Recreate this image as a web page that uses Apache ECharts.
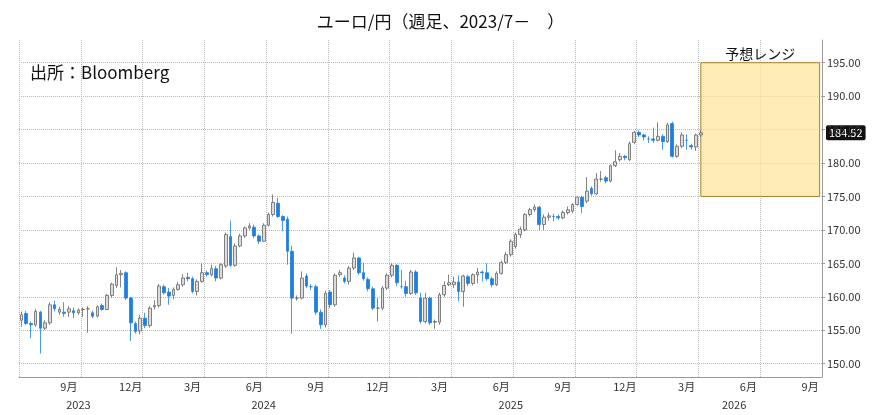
<!DOCTYPE html>
<html><head><meta charset="utf-8">
<script src="https://cdn.jsdelivr.net/npm/echarts@6/dist/echarts.min.js"></script>
<style>html,body{margin:0;padding:0;background:#fff}#c{width:881px;height:415px}</style>
</head><body><div id="c"></div>
<script>
const startDate = '2023-07-07';
const weekCount = 169;
const openV = [156.5,157.5,156.0,155.8,157.7,155.3,156.1,158.8,157.7,157.7,157.7,157.9,157.6,158.1,158.2,157.6,157.1,158.7,158.1,160.2,161.7,163.3,163.6,159.8,156.0,154.9,156.8,155.7,158.5,158.7,161.5,160.7,160.2,161.1,161.8,162.9,162.7,160.8,162.3,163.6,163.3,164.2,162.8,164.6,169.0,164.7,167.6,169.1,170.3,170.4,169.1,168.3,170.7,172.3,174.0,172.0,171.6,166.8,159.8,159.8,163.1,161.5,161.5,157.7,155.8,160.7,158.8,163.3,162.8,162.3,164.3,165.8,163.6,162.6,161.2,158.3,158.3,161.3,163.2,164.7,161.5,161.5,160.5,163.7,159.8,156.3,159.8,156.2,156.2,160.3,161.8,161.8,162.2,160.8,163.0,162.0,163.3,163.7,163.6,162.7,161.8,163.5,165.1,166.3,167.5,169.3,170.0,172.3,173.0,173.4,170.8,171.9,172.0,172.0,171.8,172.6,172.8,173.8,174.9,174.3,176.2,175.4,177.6,177.8,177.3,179.6,180.5,181.0,180.5,183.1,184.6,184.2,183.6,183.6,183.4,184.0,183.2,185.9,181.0,182.5,183.4,182.6,182.4,184.2];
const closeV = [157.3,156.0,155.8,157.8,155.3,156.1,158.8,158.2,158.1,157.5,158.2,157.6,158.0,158.1,158.2,157.1,158.5,158.1,160.2,161.9,163.3,163.5,159.8,156.1,154.8,156.8,155.7,158.3,158.7,161.6,160.6,160.1,161.1,161.8,162.8,162.7,160.8,162.3,163.6,163.3,164.2,162.8,164.8,169.3,164.7,167.6,169.1,170.3,170.6,169.1,168.3,170.7,172.3,174.1,172.0,171.4,166.8,159.8,159.8,162.8,161.6,161.5,157.7,155.8,160.5,158.8,163.2,163.6,162.3,164.3,165.8,163.6,162.7,161.2,158.3,158.3,161.3,163.2,164.7,162.1,161.5,160.5,163.7,160.6,156.3,159.8,156.1,156.3,160.3,161.7,162.1,162.2,160.8,163.1,162.0,163.3,163.7,163.6,162.7,161.8,163.5,165.1,166.3,168.3,169.3,170.1,172.3,173.0,173.4,170.8,171.9,172.1,172.0,171.8,172.6,173.0,173.8,174.9,173.5,175.8,175.4,177.6,177.6,177.3,179.6,180.2,181.0,180.8,182.9,184.6,184.2,183.9,183.6,183.4,184.0,183.2,185.7,181.0,182.5,184.2,183.4,182.4,184.2,184.52];
const lowV = [155.5,155.8,153.8,155.5,151.5,155.0,155.8,157.8,157.3,157.0,157.0,156.8,157.3,157.0,154.6,156.8,156.9,157.9,158.0,159.9,161.3,161.4,159.5,153.4,154.5,154.4,155.3,155.4,158.1,158.4,160.3,158.8,159.6,160.9,161.5,162.3,160.5,160.2,162.1,163.0,163.0,162.3,162.6,164.3,164.4,164.5,167.4,168.8,170.0,168.8,167.9,168.2,170.5,172.0,171.8,169.8,164.8,154.5,159.4,159.6,161.3,161.0,157.3,155.2,155.4,158.3,158.5,163.0,162.0,161.8,164.0,163.3,162.4,160.8,158.0,156.3,158.0,161.0,162.9,161.6,161.2,160.0,160.3,160.3,156.0,156.0,155.8,155.2,155.8,160.0,161.6,161.3,159.3,158.5,161.6,161.7,162.0,162.3,162.4,161.4,161.6,163.3,164.9,166.0,167.2,168.8,169.8,172.0,172.7,170.0,170.0,171.4,171.3,171.5,171.6,172.3,172.5,173.6,172.5,174.0,175.1,175.2,177.2,177.0,177.1,179.4,180.2,180.4,180.3,182.8,183.9,183.4,183.0,183.0,183.2,182.0,183.0,180.8,180.8,182.2,182.0,182.0,181.8,183.9];
const highV = [157.8,157.9,156.3,158.2,157.9,156.5,159.2,159.4,158.5,159.2,158.6,158.4,158.3,158.4,158.6,157.9,158.7,159.0,160.4,162.1,164.4,164.0,163.8,160.0,156.3,157.3,157.6,158.6,159.5,161.9,161.8,161.3,161.4,162.2,163.4,163.6,163.0,162.6,165.0,163.9,164.8,164.6,165.0,169.6,171.4,168.0,169.4,170.5,171.0,170.8,169.3,171.0,172.6,175.3,174.8,172.2,172.0,167.6,160.2,163.8,163.5,161.9,161.8,158.1,160.9,161.0,163.5,164.0,163.2,164.6,166.6,166.0,165.1,162.9,161.5,159.8,161.6,163.5,165.0,164.9,164.0,162.4,164.0,164.0,160.6,160.6,160.0,156.6,160.6,162.3,163.3,163.0,163.2,163.3,163.3,163.5,164.3,163.9,165.0,163.0,163.8,165.4,166.7,168.6,169.6,170.5,172.5,173.3,173.8,173.6,172.3,172.6,172.4,172.3,172.9,173.5,174.0,175.0,175.1,177.9,176.5,178.5,178.8,178.1,179.8,181.9,181.5,181.2,183.2,184.8,184.9,184.4,184.0,185.3,186.1,184.3,186.0,186.2,182.8,184.6,184.3,182.9,184.4,184.9];
const yTickValues = [150,155,160,165,170,175,180,185,190,195];
const monthLabelMonths = {3:'3月',6:'6月',9:'9月',12:'12月'};
const yearLabelDates = {'2023-09-29':'2023','2024-06-28':'2024','2025-06-27':'2025','2026-05-22':'2026'};
const lastPrice = 184.52;
const rangeHigh = 195, rangeLow = 175;

function fmt(d){const m=d.getUTCMonth()+1,dd=d.getUTCDate();return d.getUTCFullYear()+'-'+(m<10?'0':'')+m+'-'+(dd<10?'0':'')+dd;}
const cats=[];
{const s=new Date(startDate+'T00:00:00Z');for(let i=0;i<weekCount;i++){cats.push(fmt(new Date(s.getTime()+i*7*864e5)));}}
const candles=openV.map((o,i)=>[o,closeV[i],lowV[i],highV[i]]);
function isMonthLabel(i){const d=new Date(cats[i]+'T00:00:00Z');const m=d.getUTCMonth()+1,dd=d.getUTCDate();return monthLabelMonths[m]&&dd>=11&&dd<=17;}
function isQuarterStart(i){const d=new Date(cats[i]+'T00:00:00Z');const m=d.getUTCMonth()+1,dd=d.getUTCDate();return (m===1||m===4||m===7||m===10)&&dd<=7;}

const chart=echarts.init(document.getElementById('c'));
const ff='"Noto Sans CJK JP","Noto Sans",sans-serif';
chart.setOption({
  animation:false,
  textStyle:{fontFamily:ff},
  title:{text:'ユーロ/円（週足、2023/7－　）',left:'center',top:8,textStyle:{fontSize:17,fontWeight:'normal',color:'#111',fontFamily:ff}},
  graphic:[{type:'text',left:30,top:64,style:{text:'出所：Bloomberg',font:'17px '+ff,fill:'#111'}}],
  grid:{left:19,right:59,top:40,bottom:38},
  xAxis:[{type:'category',data:cats,boundaryGap:true,
    axisLine:{lineStyle:{color:'#999'}},axisTick:{show:false},
    axisLabel:{interval:(i)=>!!isMonthLabel(i),formatter:(v)=>monthLabelMonths[+v.slice(5,7)],fontSize:11,color:'#333',margin:4},
    splitLine:{show:true,interval:(i)=>isQuarterStart(i),lineStyle:{color:'#bbb',type:'dotted'}}},
   {type:'category',data:cats,position:'bottom',offset:18,boundaryGap:true,
    axisLine:{show:false},axisTick:{show:false},
    axisLabel:{interval:(i)=>!!yearLabelDates[cats[i]],formatter:(v)=>yearLabelDates[v]||'',fontSize:11,color:'#333',margin:4}}],
  yAxis:{type:'value',position:'right',min:148,max:198.4,
    axisLine:{show:true,lineStyle:{color:'#999'}},
    axisTick:{show:true,length:3,lineStyle:{color:'#999'},customValues:yTickValues},
    axisLabel:{customValues:yTickValues,formatter:(v)=>v.toFixed(2),fontSize:11,color:'#333',margin:5},
    splitLine:{show:false}},
  series:[{type:'candlestick',data:candles,barWidth:3.2,
    itemStyle:{color:'#dcdcdc',borderColor:'#666',color0:'#1e7fe0',borderColor0:'#1e7fe0',borderWidth:0.8},
    markArea:{silent:true,itemStyle:{color:'rgba(253,226,150,0.7)',borderColor:'#a8842a',borderWidth:1},
      label:{show:true,position:'top',formatter:'予想レンジ',fontSize:14,color:'#111',distance:2},
      data:[[{xAxis:cats[143],yAxis:rangeHigh},{xAxis:cats[weekCount-1],yAxis:rangeLow}]]},
    markLine:{silent:true,symbol:'none',z:0,
      data:yTickValues.map(v=>({yAxis:v,lineStyle:{color:'#bbb',type:'dotted',width:1},label:{show:false}})).concat([
        {yAxis:lastPrice,lineStyle:{color:'rgba(0,0,0,0)',width:0},
         label:{show:true,position:'end',formatter:lastPrice.toFixed(2),backgroundColor:'#111',color:'#fff',fontSize:11,padding:[2,3],borderRadius:2,distance:4}}])}
  }]
});
</script></body></html>
